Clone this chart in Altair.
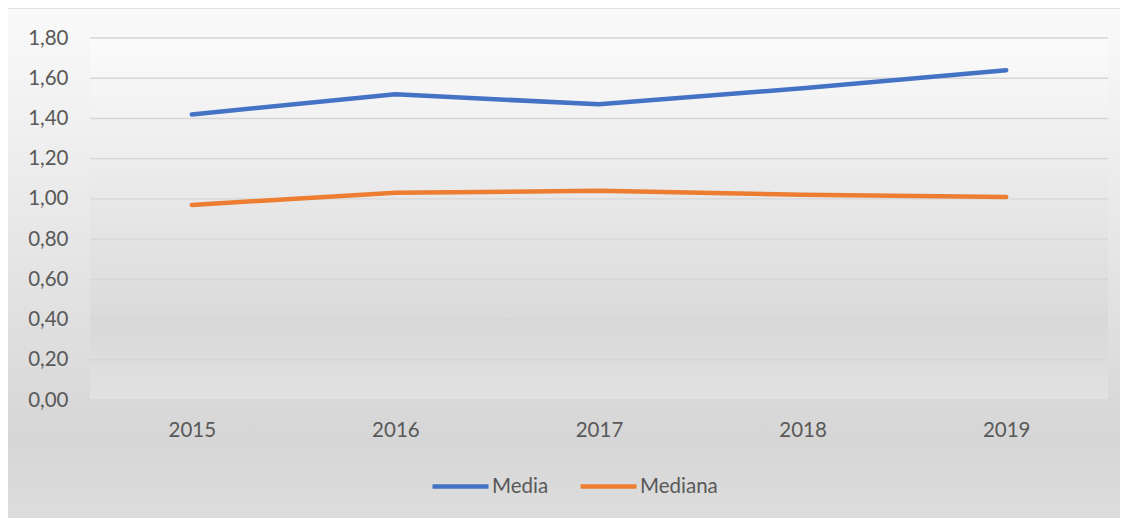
import altair as alt
import pandas as pd

years = ["2015", "2016", "2017", "2018", "2019"]
media = [1.42, 1.52, 1.47, 1.55, 1.64]
mediana = [0.97, 1.03, 1.04, 1.02, 1.01]
series_names = ["Media", "Mediana"]
series_colors = ["#4472C4", "#ED7D31"]
y_ticks = [0.0, 0.2, 0.4, 0.6, 0.8, 1.0, 1.2, 1.4, 1.6, 1.8]

W, H = 1018, 362
FONT = "Lato"
TXT = "#595959"

df = pd.DataFrame({
    "year": years * 2,
    "value": media + mediana,
    "series": [series_names[0]] * len(years) + [series_names[1]] * len(years),
})
ticks_df = pd.DataFrame({"tick": y_ticks})
one = pd.DataFrame({"a": [0]})

yscale = alt.Scale(domain=[0, 1.8], nice=False, zero=True)
yaxis = alt.Axis(values=y_ticks,
                 labelExpr="replace(format(datum.value, '.2f'), '.', ',')",
                 labelFont=FONT, labelFontSize=20.5, labelColor=TXT,
                 labelPadding=22, domain=False, ticks=False, grid=False,
                 title=None, zindex=1)
xaxis = alt.Axis(labelAngle=0, labelFont=FONT, labelFontSize=20.5, labelColor=TXT,
                 labelPadding=20, domain=False, ticks=False, grid=False,
                 title=None, zindex=1)

outer_grad = {
    "gradient": "linear", "x1": 0, "y1": 0, "x2": 0, "y2": 1,
    "stops": [
        {"offset": 0.0, "color": "#fafafa"},
        {"offset": 0.81, "color": "#d6d6d6"},
        {"offset": 1.0, "color": "#dfdfdf"},
    ],
}
plot_grad = {
    "gradient": "linear", "x1": 0, "y1": 0, "x2": 0, "y2": 1,
    "stops": [
        {"offset": 0.0, "color": "#fbfbfb"},
        {"offset": 0.8, "color": "#d9d9d9"},
        {"offset": 1.0, "color": "#e2e2e2"},
    ],
}

bg = alt.Chart(one).mark_rect(fill=outer_grad, stroke="#d9d9d9", strokeWidth=1.5).encode(
    x=alt.value(-83), x2=alt.value(W + 40), y=alt.value(-30), y2=alt.value(H + 140)
)
plotbg = alt.Chart(one).mark_rect(fill=plot_grad).encode(
    x=alt.value(0), x2=alt.value(W), y=alt.value(0), y2=alt.value(H)
)
grid = alt.Chart(ticks_df).mark_rule(color="#d6d6d6", strokeWidth=1.4).encode(
    y=alt.Y("tick:Q", scale=yscale, axis=yaxis),
    x=alt.value(0), x2=alt.value(W),
)
lines = alt.Chart(df).mark_line(strokeWidth=4.5, strokeCap="round", strokeJoin="round").encode(
    x=alt.X("year:O", sort=years, axis=xaxis, scale=alt.Scale(type="point", padding=0.5)),
    y=alt.Y("value:Q", scale=yscale, axis=yaxis),
    color=alt.Color("series:N",
                    scale=alt.Scale(domain=series_names, range=series_colors),
                    legend=alt.Legend(orient="none", legendX=340, legendY=418,
                                      direction="horizontal", title=None,
                                      symbolType="stroke", symbolStrokeWidth=4.5,
                                      symbolSize=3136, labelFont=FONT,
                                      labelFontSize=20.5, labelColor=TXT,
                                      labelOffset=1, columnPadding=22)),
)

chart = alt.layer(bg, plotbg, grid, lines).properties(
    width=W, height=H,
    padding={"left": 82, "top": 30, "right": 12, "bottom": 118},
    autosize=alt.AutoSizeParams(type="none"),
    background="white",
).configure_view(stroke=None)

chart.save("out.html", embed_options={"renderer": "svg", "actions": False})
